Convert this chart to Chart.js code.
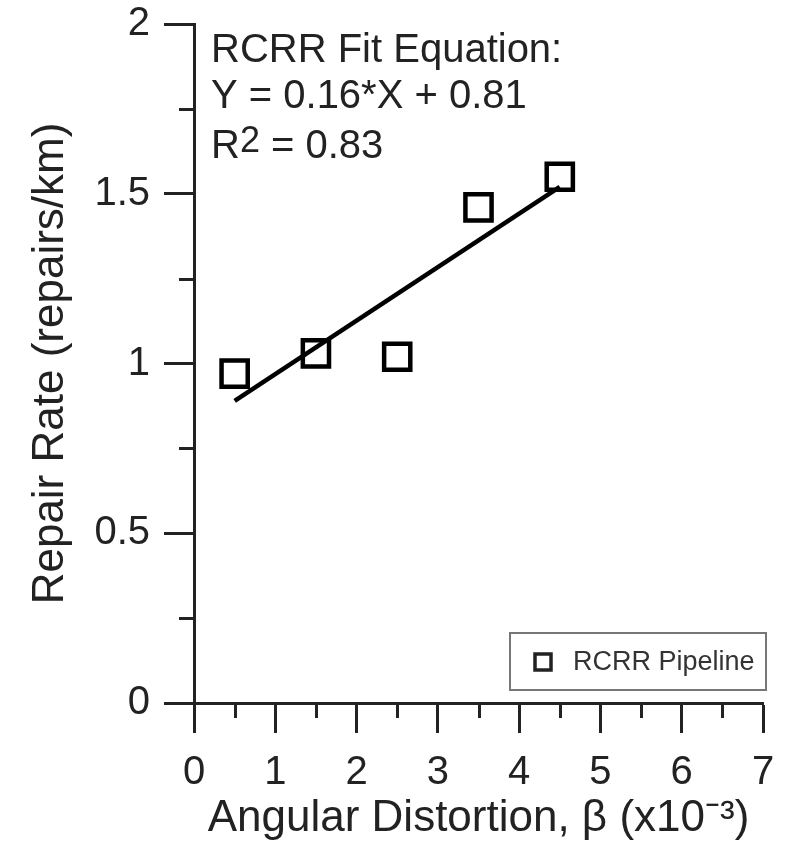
<!DOCTYPE html>
<html>
<head>
<meta charset="utf-8">
<script src="https://cdn.jsdelivr.net/npm/chart.js@4.4.1/dist/chart.umd.min.js"></script>
<style>
    body { margin: 0; background: #fff; }
</style>
</head>
<body>
<canvas id="myChart" width="786" height="848"></canvas>
<script>
// values
let distortion = [0.5, 1.5, 2.5, 3.5, 4.5];
let repairRate = [0.97, 1.03, 1.02, 1.46, 1.55];
let fitX = [0.5, 4.5];
let fitY = [0.89, 1.52];

let xTicks = [0, 1, 2, 3, 4, 5, 6, 7];
let yTicks = [0, 0.5, 1, 1.5, 2];
let xMinorTicks = [0.5, 1.5, 2.5, 3.5, 4.5, 5.5, 6.5];
let yMinorTicks = [0.25, 0.75, 1.25, 1.75];

let seriesName = 'RCRR Pipeline';
let fitLines = ['RCRR Fit Equation:', 'Y = 0.16*X + 0.81'];
let rSquared = '0.83';

let axisColor = '#222';
Chart.defaults.font.family = "'Liberation Sans', Arial, sans-serif";
Chart.defaults.color = '#222';

let toPoints = (xs, ys) => xs.map((x, i) => ({ x: x, y: ys[i] }));

// half-step ticks, shorter than the labelled ones
let minorTicks = {
    id: 'minorTicks',
    afterDraw(chart) {
        let ctx = chart.ctx;
        let x = chart.scales.x, y = chart.scales.y;
        ctx.save();
        ctx.strokeStyle = axisColor;
        ctx.lineWidth = 3;
        ctx.beginPath();
        xMinorTicks.forEach(v => {
            let px = Math.round(x.getPixelForValue(v)) + 0.5;
            ctx.moveTo(px, x.top);
            ctx.lineTo(px, x.top + 15);
        });
        yMinorTicks.forEach(v => {
            let py = Math.round(y.getPixelForValue(v)) + 0.5;
            ctx.moveTo(y.right, py);
            ctx.lineTo(y.right - 15, py);
        });
        ctx.stroke();
        ctx.restore();
    }
};

// fit equation text in the top-left corner of the plot
let fitNote = {
    id: 'fitNote',
    afterDraw(chart) {
        let ctx = chart.ctx;
        let area = chart.chartArea;
        let left = area.left + 17;
        ctx.save();
        ctx.fillStyle = '#222';
        ctx.textBaseline = 'alphabetic';
        ctx.textAlign = 'left';
        ctx.font = "40px 'Liberation Sans', Arial, sans-serif";
        ctx.fillText(fitLines[0], left, area.top + 38);
        ctx.fillText(fitLines[1], left, area.top + 84);
        let base = area.top + 134;
        ctx.fillText('R', left, base);
        let w = ctx.measureText('R').width;
        ctx.font = "36px 'Liberation Sans', Arial, sans-serif";
        ctx.fillText('2', left + w, base - 6);
        w += ctx.measureText('2').width;
        ctx.font = "40px 'Liberation Sans', Arial, sans-serif";
        ctx.fillText(' = ' + rSquared, left + w, base);
        ctx.restore();
    }
};

// legend box sitting in the lower right of the plot
let boxLegend = {
    id: 'boxLegend',
    afterDraw(chart) {
        let ctx = chart.ctx;
        let area = chart.chartArea;
        let bx = area.right - 253, by = area.bottom - 70;
        ctx.save();
        ctx.fillStyle = '#fff';
        ctx.fillRect(bx, by, 256, 57);
        ctx.strokeStyle = '#777';
        ctx.lineWidth = 2;
        ctx.strokeRect(bx, by, 256, 57);
        ctx.strokeStyle = '#222';
        ctx.lineWidth = 3.5;
        ctx.strokeRect(bx + 25, by + 21, 16, 16);
        ctx.fillStyle = '#333';
        ctx.font = "27px 'Liberation Sans', Arial, sans-serif";
        ctx.textBaseline = 'middle';
        ctx.fillText(chart.data.datasets[0].label, bx + 63, by + 30);
        ctx.restore();
    }
};

let ctx = document.getElementById('myChart').getContext('2d');

let myChart = new Chart(ctx, {
    type: 'scatter',
    data: {
        datasets: [{
            label: seriesName,
            data: toPoints(distortion, repairRate),
            pointStyle: 'rect',
            pointRadius: 18.5,
            pointHoverRadius: 18.5,
            pointBorderWidth: 4.5,
            borderColor: '#000',
            backgroundColor: 'rgba(0,0,0,0)',
            showLine: false
        }, {
            label: 'RCRR Fit',
            data: toPoints(fitX, fitY),
            showLine: true,
            borderColor: '#000',
            borderWidth: 4.5,
            pointRadius: 0
        }]
    },
    options: {
        responsive: false,
        animation: false,
        events: [],
        layout: {
            padding: { top: 24, right: 20, bottom: 0, left: 0 }
        },
        plugins: {
            legend: { display: false },
            tooltip: { enabled: false }
        },
        scales: {
            x: {
                type: 'linear',
                min: 0,
                max: 7,
                afterBuildTicks: (scale) => { scale.ticks = xTicks.map(v => ({ value: v })) },
                afterFit: (scale) => {
                    scale.height = 145;
                    scale.paddingLeft = 0;
                    scale.paddingRight = 0;
                },
                ticks: {
                    font: { size: 40 },
                    padding: 16,
                    maxRotation: 0,
                    color: '#222',
                    callback: (v) => String(v)
                },
                grid: {
                    drawOnChartArea: false,
                    tickLength: 30,
                    tickWidth: 3,
                    tickColor: axisColor
                },
                border: { color: axisColor, width: 3 },
                title: {
                    display: true,
                    text: 'Angular Distortion, β (x10⁻³)',
                    font: { size: 44 },
                    color: '#222',
                    padding: { top: 0, bottom: 3 }
                }
            },
            y: {
                type: 'linear',
                min: 0,
                max: 2,
                afterBuildTicks: (scale) => { scale.ticks = yTicks.map(v => ({ value: v })) },
                afterFit: (scale) => {
                    scale.width = 194;
                    scale.paddingTop = 0;
                    scale.paddingBottom = 0;
                },
                ticks: {
                    font: { size: 40 },
                    padding: 14,
                    color: '#222',
                    callback: (v) => String(v)
                },
                grid: {
                    drawOnChartArea: false,
                    tickLength: 30,
                    tickWidth: 3,
                    tickColor: axisColor
                },
                border: { color: axisColor, width: 3 },
                title: {
                    display: true,
                    text: 'Repair Rate (repairs/km)',
                    font: { size: 44 },
                    color: '#222',
                    padding: { top: 24, bottom: 0 }
                }
            }
        }
    },
    plugins: [minorTicks, fitNote, boxLegend]
});
</script>
</body>
</html>
